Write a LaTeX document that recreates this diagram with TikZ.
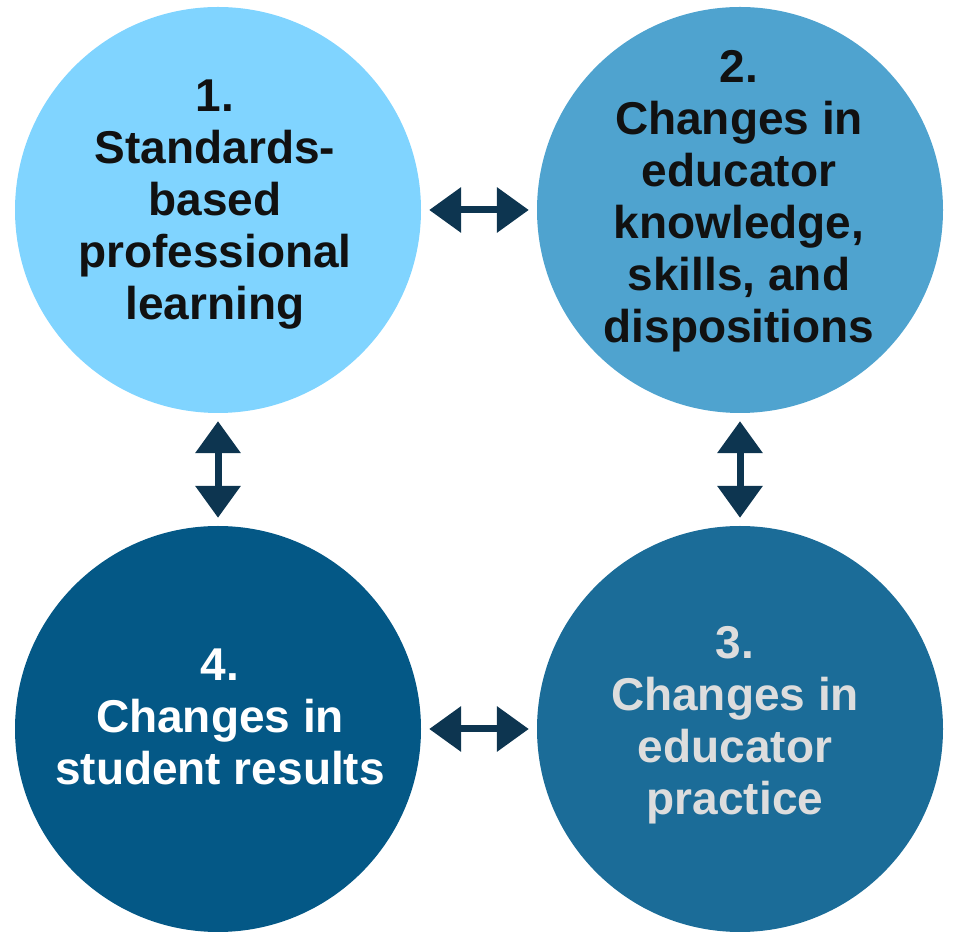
\documentclass[tikz,border=0pt]{standalone}
\usepackage{fontspec}
\setmainfont{Liberation Sans}
\usetikzlibrary{arrows.meta}
\definecolor{cOne}{HTML}{80D4FF}
\definecolor{cTwo}{HTML}{4FA3CF}
\definecolor{cThree}{HTML}{1B6C98}
\definecolor{cFour}{HTML}{045886}
\definecolor{arrowc}{HTML}{0D3550}
\definecolor{txtgray}{HTML}{DDDDDD}
\definecolor{txtdark}{HTML}{111111}
\begin{document}
\begin{tikzpicture}[x=1pt,y=1pt,
  circ/.style={circle, minimum size=406pt, inner sep=0pt},
  lbl/.style={align=center, inner sep=0pt, font=\fontsize{46}{52}\selectfont\bfseries},
  link/.style={line width=7pt, draw=arrowc,
    {Triangle[length=32pt,width=44pt]}-{Triangle[length=32pt,width=44pt]},
    shorten <=8pt, shorten >=8pt}]
\useasboundingbox (0,0) rectangle (953,934);
\node[circ, fill=cOne]   (c1) at (218,724) {};
\node[circ, fill=cTwo]   (c2) at (740,724) {};
\node[circ, fill=cThree] (c3) at (740,205) {};
\node[circ, fill=cFour]  (c4) at (218,205) {};
\node[lbl, text=txtdark] (t1) at (215,729) {1.\\Standards-\\based\\professional\\learning};
\node[lbl, text=txtdark] (t2) at (739,733) {2.\\Changes in\\educator\\knowledge,\\skills, and\\dispositions};
\node[lbl, text=txtgray] (t3) at (735,209) {3.\\Changes in\\educator\\practice};
\node[lbl, text=white]   (t4) at (220,217) {4.\\Changes in\\student results};
\draw[link] (c1) -- (c2);
\draw[link] (c2) -- (c3);
\draw[link] (c4) -- (c3);
\draw[link] (c1) -- (c4);
\end{tikzpicture}
\end{document}
